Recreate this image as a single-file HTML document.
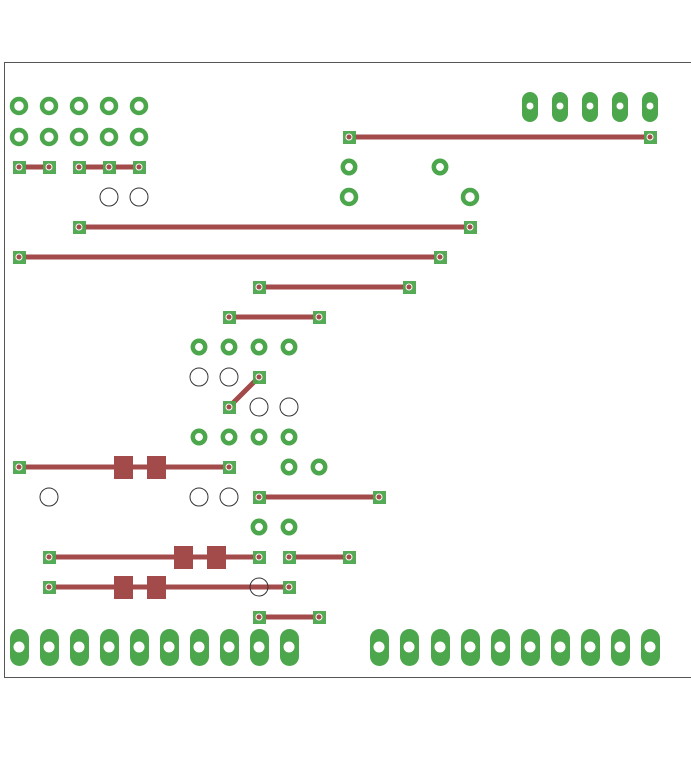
<!DOCTYPE html>
<html><head><meta charset="utf-8"><style>html,body{margin:0;padding:0;background:#fff}svg{display:block}</style></head><body>
<svg width="691" height="768" xmlns="http://www.w3.org/2000/svg">
<rect x="4.5" y="62.5" width="700" height="615" fill="none" stroke="#555" stroke-width="1"/>
<g stroke="#a34b4b" stroke-width="5" stroke-linecap="round">
<line x1="349" y1="137" x2="650" y2="137"/>
<line x1="19" y1="167" x2="49" y2="167"/>
<line x1="79" y1="167" x2="139" y2="167"/>
<line x1="79" y1="227" x2="470" y2="227"/>
<line x1="19" y1="257" x2="440" y2="257"/>
<line x1="259" y1="287" x2="409" y2="287"/>
<line x1="229" y1="317" x2="319" y2="317"/>
<line x1="259" y1="377" x2="229" y2="407"/>
<line x1="19" y1="467" x2="229" y2="467"/>
<line x1="259" y1="497" x2="379" y2="497"/>
<line x1="49" y1="557" x2="259" y2="557"/>
<line x1="289" y1="557" x2="349" y2="557"/>
<line x1="49" y1="587" x2="289" y2="587"/>
<line x1="259" y1="617" x2="319" y2="617"/>
</g>
<g fill="#a34b4b">
<rect x="114" y="456" width="19" height="23"/><rect x="147" y="456" width="19" height="23"/>
<rect x="174" y="546" width="19" height="23"/><rect x="207" y="546" width="19" height="23"/>
<rect x="114" y="576" width="19" height="23"/><rect x="147" y="576" width="19" height="23"/>
</g>
<g fill="#4ca64c" opacity="0.95">
<rect x="343" y="131" width="13" height="13"/><rect x="644" y="131" width="13" height="13"/>
<rect x="13" y="161" width="13" height="13"/><rect x="43" y="161" width="13" height="13"/>
<rect x="73" y="161" width="13" height="13"/><rect x="103" y="161" width="13" height="13"/><rect x="133" y="161" width="13" height="13"/>
<rect x="73" y="221" width="13" height="13"/><rect x="464" y="221" width="13" height="13"/>
<rect x="13" y="251" width="13" height="13"/><rect x="434" y="251" width="13" height="13"/>
<rect x="253" y="281" width="13" height="13"/><rect x="403" y="281" width="13" height="13"/>
<rect x="223" y="311" width="13" height="13"/><rect x="313" y="311" width="13" height="13"/>
<rect x="253" y="371" width="13" height="13"/><rect x="223" y="401" width="13" height="13"/>
<rect x="13" y="461" width="13" height="13"/><rect x="223" y="461" width="13" height="13"/>
<rect x="253" y="491" width="13" height="13"/><rect x="373" y="491" width="13" height="13"/>
<rect x="43" y="551" width="13" height="13"/><rect x="253" y="551" width="13" height="13"/>
<rect x="283" y="551" width="13" height="13"/><rect x="343" y="551" width="13" height="13"/>
<rect x="43" y="581" width="13" height="13"/><rect x="283" y="581" width="13" height="13"/>
<rect x="253" y="611" width="13" height="13"/><rect x="313" y="611" width="13" height="13"/>
</g>
<g fill="#a34b4b" stroke="#fff" stroke-width="1">
<circle cx="349" cy="137" r="3"/><circle cx="650" cy="137" r="3"/>
<circle cx="19" cy="167" r="3"/><circle cx="49" cy="167" r="3"/><circle cx="79" cy="167" r="3"/><circle cx="109" cy="167" r="3"/><circle cx="139" cy="167" r="3"/>
<circle cx="79" cy="227" r="3"/><circle cx="470" cy="227" r="3"/>
<circle cx="19" cy="257" r="3"/><circle cx="440" cy="257" r="3"/>
<circle cx="259" cy="287" r="3"/><circle cx="409" cy="287" r="3"/>
<circle cx="229" cy="317" r="3"/><circle cx="319" cy="317" r="3"/>
<circle cx="259" cy="377" r="3"/><circle cx="229" cy="407" r="3"/>
<circle cx="19" cy="467" r="3"/><circle cx="229" cy="467" r="3"/>
<circle cx="259" cy="497" r="3"/><circle cx="379" cy="497" r="3"/>
<circle cx="49" cy="557" r="3"/><circle cx="259" cy="557" r="3"/><circle cx="289" cy="557" r="3"/><circle cx="349" cy="557" r="3"/>
<circle cx="49" cy="587" r="3"/><circle cx="289" cy="587" r="3"/>
<circle cx="259" cy="617" r="3"/><circle cx="319" cy="617" r="3"/>
</g>
<g fill="none" stroke="#4ca64c" stroke-width="4.5">
<circle cx="19" cy="106" r="7"/><circle cx="49" cy="106" r="7"/><circle cx="79" cy="106" r="7"/><circle cx="109" cy="106" r="7"/><circle cx="139" cy="106" r="7"/>
<circle cx="19" cy="137" r="7"/><circle cx="49" cy="137" r="7"/><circle cx="79" cy="137" r="7"/><circle cx="109" cy="137" r="7"/><circle cx="139" cy="137" r="7"/>
<circle cx="349" cy="167" r="6.2"/><circle cx="440" cy="167" r="6.2"/>
<circle cx="349" cy="197" r="7"/><circle cx="470" cy="197" r="7"/>
<circle cx="199" cy="347" r="6.2"/><circle cx="229" cy="347" r="6.2"/><circle cx="259" cy="347" r="6.2"/><circle cx="289" cy="347" r="6.2"/>
<circle cx="199" cy="437" r="6.2"/><circle cx="229" cy="437" r="6.2"/><circle cx="259" cy="437" r="6.2"/><circle cx="289" cy="437" r="6.2"/>
<circle cx="289" cy="467" r="6.2"/><circle cx="319" cy="467" r="6.2"/>
<circle cx="259" cy="527" r="6.2"/><circle cx="289" cy="527" r="6.2"/>
</g>
<g fill="none" stroke="#333" stroke-width="1">
<circle cx="109" cy="197" r="9"/><circle cx="139" cy="197" r="9"/>
<circle cx="199" cy="377" r="9"/><circle cx="229" cy="377" r="9"/>
<circle cx="259" cy="407" r="9"/><circle cx="289" cy="407" r="9"/>
<circle cx="49" cy="497" r="9"/><circle cx="199" cy="497" r="9"/><circle cx="229" cy="497" r="9"/>
<circle cx="259" cy="587" r="9"/>
</g>
<g fill="#4ca64c">
<rect x="522" y="92" width="16" height="30" rx="8"/><rect x="552" y="92" width="16" height="30" rx="8"/><rect x="582" y="92" width="16" height="30" rx="8"/><rect x="612" y="92" width="16" height="30" rx="8"/><rect x="642" y="92" width="16" height="30" rx="8"/>
<rect x="10" y="629" width="19" height="37" rx="9.5"/><rect x="40" y="629" width="19" height="37" rx="9.5"/><rect x="70" y="629" width="19" height="37" rx="9.5"/><rect x="100" y="629" width="19" height="37" rx="9.5"/><rect x="130" y="629" width="19" height="37" rx="9.5"/>
<rect x="160" y="629" width="19" height="37" rx="9.5"/><rect x="190" y="629" width="19" height="37" rx="9.5"/><rect x="220" y="629" width="19" height="37" rx="9.5"/><rect x="250" y="629" width="19" height="37" rx="9.5"/><rect x="280" y="629" width="19" height="37" rx="9.5"/>
<rect x="370" y="629" width="19" height="37" rx="9.5"/><rect x="400" y="629" width="19" height="37" rx="9.5"/><rect x="431" y="629" width="19" height="37" rx="9.5"/><rect x="461" y="629" width="19" height="37" rx="9.5"/><rect x="491" y="629" width="19" height="37" rx="9.5"/>
<rect x="521" y="629" width="19" height="37" rx="9.5"/><rect x="551" y="629" width="19" height="37" rx="9.5"/><rect x="581" y="629" width="19" height="37" rx="9.5"/><rect x="611" y="629" width="19" height="37" rx="9.5"/><rect x="641" y="629" width="19" height="37" rx="9.5"/>
</g>
<g fill="#fff">
<circle cx="530" cy="106" r="3.5"/><circle cx="560" cy="106" r="3.5"/><circle cx="590" cy="106" r="3.5"/><circle cx="620" cy="106" r="3.5"/><circle cx="650" cy="106" r="3.5"/>
<circle cx="19" cy="647" r="5.5"/><circle cx="49" cy="647" r="5.5"/><circle cx="79" cy="647" r="5.5"/><circle cx="109" cy="647" r="5.5"/><circle cx="139" cy="647" r="5.5"/>
<circle cx="169" cy="647" r="5.5"/><circle cx="199" cy="647" r="5.5"/><circle cx="229" cy="647" r="5.5"/><circle cx="259" cy="647" r="5.5"/><circle cx="289" cy="647" r="5.5"/>
<circle cx="379" cy="647" r="5.5"/><circle cx="409" cy="647" r="5.5"/><circle cx="440" cy="647" r="5.5"/><circle cx="470" cy="647" r="5.5"/><circle cx="500" cy="647" r="5.5"/>
<circle cx="530" cy="647" r="5.5"/><circle cx="560" cy="647" r="5.5"/><circle cx="590" cy="647" r="5.5"/><circle cx="620" cy="647" r="5.5"/><circle cx="650" cy="647" r="5.5"/>
</g>
</svg>
</body></html>
